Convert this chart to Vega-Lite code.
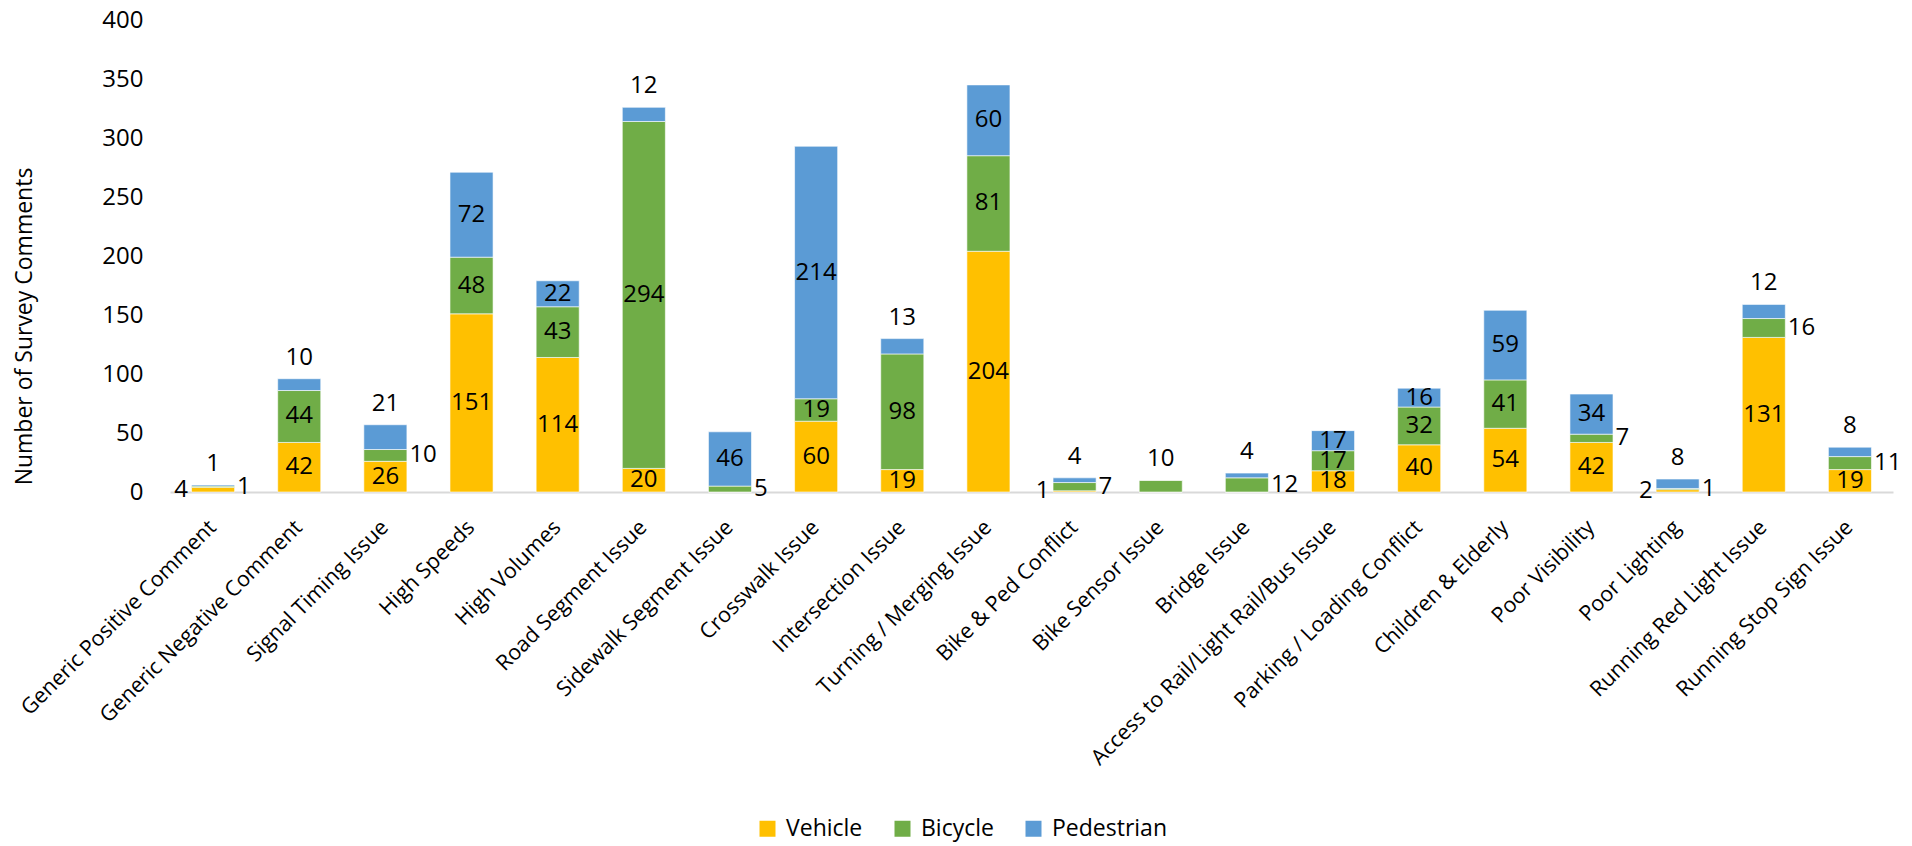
{
  "$schema": "https://vega.github.io/schema/vega-lite/v6.json",
  "autosize": {"type": "none"},
  "padding": {"left": 170, "top": 20, "right": 19, "bottom": 354},
  "width": 1723,
  "height": 472,
  "background": "white",
  "config": {
    "font": "Open Sans",
    "view": {"stroke": null},
    "axis": {"labelFont": "Open Sans", "titleFont": "Open Sans", "labelColor": "#000000", "titleColor": "#000000"},
    "legend": {"labelFont": "Open Sans"}
  },
  "data": {
    "values": [
      {"category": "Generic Positive Comment", "Vehicle": 4, "Bicycle": 1, "Pedestrian": 1},
      {"category": "Generic Negative Comment", "Vehicle": 42, "Bicycle": 44, "Pedestrian": 10},
      {"category": "Signal Timing Issue", "Vehicle": 26, "Bicycle": 10, "Pedestrian": 21},
      {"category": "High Speeds", "Vehicle": 151, "Bicycle": 48, "Pedestrian": 72},
      {"category": "High Volumes", "Vehicle": 114, "Bicycle": 43, "Pedestrian": 22},
      {"category": "Road Segment Issue", "Vehicle": 20, "Bicycle": 294, "Pedestrian": 12},
      {"category": "Sidewalk Segment Issue", "Vehicle": 0, "Bicycle": 5, "Pedestrian": 46},
      {"category": "Crosswalk Issue", "Vehicle": 60, "Bicycle": 19, "Pedestrian": 214},
      {"category": "Intersection Issue", "Vehicle": 19, "Bicycle": 98, "Pedestrian": 13},
      {"category": "Turning / Merging Issue", "Vehicle": 204, "Bicycle": 81, "Pedestrian": 60},
      {"category": "Bike & Ped Conflict", "Vehicle": 1, "Bicycle": 7, "Pedestrian": 4},
      {"category": "Bike Sensor Issue", "Vehicle": 0, "Bicycle": 10, "Pedestrian": 0},
      {"category": "Bridge Issue", "Vehicle": 0, "Bicycle": 12, "Pedestrian": 4},
      {"category": "Access to Rail/Light Rail/Bus Issue", "Vehicle": 18, "Bicycle": 17, "Pedestrian": 17},
      {"category": "Parking / Loading Conflict", "Vehicle": 40, "Bicycle": 32, "Pedestrian": 16},
      {"category": "Children & Elderly", "Vehicle": 54, "Bicycle": 41, "Pedestrian": 59},
      {"category": "Poor Visibility", "Vehicle": 42, "Bicycle": 7, "Pedestrian": 34},
      {"category": "Poor Lighting", "Vehicle": 2, "Bicycle": 1, "Pedestrian": 8},
      {"category": "Running Red Light Issue", "Vehicle": 131, "Bicycle": 16, "Pedestrian": 12},
      {"category": "Running Stop Sign Issue", "Vehicle": 19, "Bicycle": 11, "Pedestrian": 8}
    ]
  },
  "transform": [
    {"fold": ["Vehicle", "Bicycle", "Pedestrian"], "as": ["series", "count"]},
    {"calculate": "indexof(['Vehicle','Bicycle','Pedestrian'], datum.series)", "as": "order"},
    {"stack": "count", "groupby": ["category"], "sort": [{"field": "order", "order": "ascending"}], "as": ["y0", "y1"]},
    {"calculate": "(datum.y0 + datum.y1) / 2", "as": "mid"},
    {"calculate": "datum.count >= 16 && !(datum.category === 'Signal Timing Issue' && datum.series === 'Pedestrian') && !(datum.category === 'Running Red Light Issue' && datum.series === 'Bicycle') ? 'center' : ((datum.series === 'Pedestrian' || datum.category === 'Bike Sensor Issue') ? 'above' : (datum.series === 'Vehicle' ? 'left' : 'right'))", "as": "place"}
  ],
  "encoding": {
    "x": {
      "field": "category",
      "type": "nominal",
      "sort": null,
      "scale": {"paddingInner": 0.5, "paddingOuter": 0.25},
      "axis": {
        "title": null,
        "labelAngle": -45,
        "labelAlign": "right",
        "labelBaseline": "middle",
        "labelFontSize": 21.5,
        "labelPadding": 32,
        "labelLimit": 0,
        "ticks": false,
        "domainColor": "#D9D9D9",
        "domainWidth": 2,
        "grid": false
      }
    }
  },
  "layer": [
    {
      "mark": {"type": "bar", "stroke": "#ffffff", "strokeWidth": 1, "strokeOpacity": 0.6},
      "encoding": {
        "y": {
          "field": "y0",
          "type": "quantitative",
          "scale": {"domain": [0, 400], "nice": false},
          "axis": {
            "title": "Number of Survey Comments",
            "titleFontSize": 23,
            "titleFontWeight": "normal",
            "titleX": -146,
            "titleY": 306,
            "titleBaseline": "middle",
            "values": [0, 50, 100, 150, 200, 250, 300, 350, 400],
            "labelFontSize": 24,
            "labelPadding": 27,
            "ticks": false,
            "domain": false,
            "grid": false
          }
        },
        "y2": {"field": "y1"},
        "color": {
          "field": "series",
          "type": "nominal",
          "scale": {"domain": ["Vehicle", "Bicycle", "Pedestrian"], "range": ["#FFC000", "#70AD47", "#5B9BD5"]},
          "legend": {
            "title": null,
            "orient": "none",
            "direction": "horizontal",
            "legendX": 586,
            "legendY": 797,
            "symbolType": "square",
            "symbolSize": 256,
            "symbolStrokeWidth": 0,
            "labelFontSize": 23,
            "labelColor": "#000000",
            "labelOffset": 7,
            "columnPadding": 28
          }
        }
      }
    },
    {
      "transform": [{"filter": "datum.count > 0 && datum.place === 'center'"}],
      "mark": {"type": "text", "fontSize": 24, "color": "#000000", "align": "center", "baseline": "middle"},
      "encoding": {"y": {"field": "mid", "type": "quantitative"}, "text": {"field": "count", "type": "quantitative"}}
    },
    {
      "transform": [{"filter": "datum.count > 0 && datum.place === 'left'"}],
      "mark": {"type": "text", "fontSize": 24, "color": "#000000", "align": "right", "baseline": "middle", "dx": -25},
      "encoding": {"y": {"field": "mid", "type": "quantitative"}, "text": {"field": "count", "type": "quantitative"}}
    },
    {
      "transform": [{"filter": "datum.count > 0 && datum.place === 'right'"}],
      "mark": {"type": "text", "fontSize": 24, "color": "#000000", "align": "left", "baseline": "middle", "dx": 24},
      "encoding": {"y": {"field": "mid", "type": "quantitative"}, "text": {"field": "count", "type": "quantitative"}}
    },
    {
      "transform": [{"filter": "datum.count > 0 && datum.place === 'above'"}],
      "mark": {"type": "text", "fontSize": 24, "color": "#000000", "align": "center", "baseline": "alphabetic", "dy": -14},
      "encoding": {"y": {"field": "y1", "type": "quantitative"}, "text": {"field": "count", "type": "quantitative"}}
    }
  ]
}
